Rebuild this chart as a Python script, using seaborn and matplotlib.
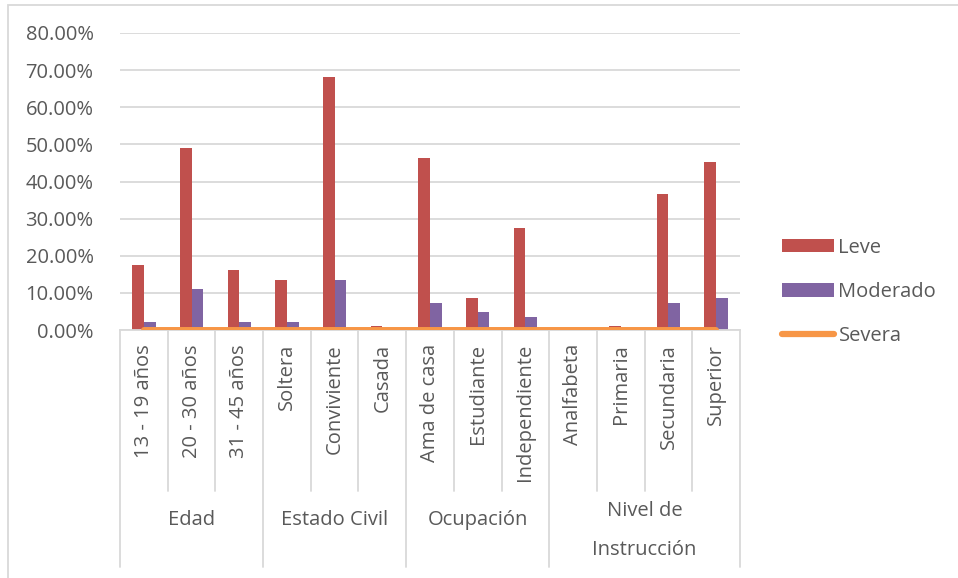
import numpy as np
import pandas as pd
import matplotlib
matplotlib.use("Agg")
import matplotlib.pyplot as plt
import seaborn as sns
from matplotlib.lines import Line2D
from matplotlib.patches import Patch, Rectangle
import matplotlib.transforms as mtransforms

categories = ["13 - 19 años", "20 - 30 años", "31 - 45 años",
              "Soltera", "Conviviente", "Casada",
              "Ama de casa", "Estudiante", "Independiente",
              "Analfabeta", "Primaria", "Secundaria", "Superior"]
groups = ["Edad", "Estado Civil", "Ocupación", "Nivel de\nInstrucción"]
group_sizes = [3, 3, 3, 4]
leve = [0.175, 0.490, 0.162, 0.136, 0.681, 0.011, 0.463, 0.086, 0.276, 0.0, 0.011, 0.365, 0.453]
moderado = [0.022, 0.110, 0.022, 0.022, 0.136, 0.0, 0.074, 0.048, 0.035, 0.0, 0.0, 0.074, 0.086]
severa = [0.0] * 13
yticks = [0.0, 0.1, 0.2, 0.3, 0.4, 0.5, 0.6, 0.7, 0.8]

C_LEVE = "#C0504D"
C_MOD = "#8064A2"
C_SEV = "#F79646"
TXT = "#595959"
GRID = "#D9D9D9"

sns.set_theme(style="white")
plt.rcParams["font.family"] = ["Open Sans", "DejaVu Sans"]

df = pd.DataFrame({
    "cat": categories * 2,
    "val": leve + moderado,
    "serie": ["Leve"] * 13 + ["Moderado"] * 13,
})

W, H = 958, 578
fig = plt.figure(figsize=(W / 100, H / 100), dpi=100)
ax = fig.add_axes([120 / W, (H - 330) / H, 620 / W, 297 / H])

sns.barplot(data=df, x="cat", y="val", hue="serie", order=categories,
            palette=[C_LEVE, C_MOD], width=0.49, ax=ax, legend=False,
            saturation=1, linewidth=0, errorbar=None)
xs = np.arange(len(categories))
sns.lineplot(x=xs, y=severa, ax=ax, color=C_SEV, linewidth=4.3,
             solid_capstyle="round", legend=False, zorder=5)

ax.set_xlim(-0.5, len(categories) - 0.5)
ax.set_ylim(0, 0.8)
ax.set_yticks(yticks)
ax.set_yticklabels([f"{v*100:.2f}%" for v in yticks], color=TXT, fontsize=14.5)
ax.tick_params(axis="y", length=0, pad=19)
ax.grid(axis="y", color=GRID, linewidth=1.3)
ax.set_axisbelow(True)
for s in ["top", "right", "left"]:
    ax.spines[s].set_visible(False)
ax.spines["bottom"].set_color(GRID)
ax.spines["bottom"].set_linewidth(1.3)
ax.set_xticks([])
ax.set_xlabel("")
ax.set_ylabel("")

# category table below the axis
trans = mtransforms.blended_transform_factory(ax.transData, fig.transFigure)
y_top = (H - 330) / H
y_inner = (H - 491) / H
y_outer = (H - 567) / H
for i, c in enumerate(categories):
    ax.text(i, (H - 344) / H, c, transform=trans, rotation=90, ha="center",
            va="top", color=TXT, fontsize=14.5, rotation_mode="default")
bounds = np.cumsum([0] + group_sizes)
for b in range(len(categories) + 1):
    outer = b in bounds
    ax.add_line(Line2D([b - 0.5, b - 0.5], [y_top, y_outer if outer else y_inner],
                       transform=trans, color=GRID, linewidth=1.3, clip_on=False))
for g, (a, b) in zip(groups, zip(bounds[:-1], bounds[1:])):
    xc = (a + b - 1) / 2
    if "\n" in g:
        l1, l2 = g.split("\n")
        ax.text(xc, (H - 511) / H, l1, transform=trans, ha="center", va="center",
                color=TXT, fontsize=14.5)
        ax.text(xc, (H - 550) / H, l2, transform=trans, ha="center", va="center",
                color=TXT, fontsize=14.5)
    else:
        ax.text(xc, (H - 520) / H, g, transform=trans, ha="center", va="center",
                color=TXT, fontsize=14.5)

# legend
handles = [Patch(facecolor=C_LEVE, edgecolor="none"),
           Patch(facecolor=C_MOD, edgecolor="none"),
           Line2D([0], [0], color=C_SEV, linewidth=4.5, solid_capstyle="round")]
leg = fig.legend(handles, ["Leve", "Moderado", "Severa"], loc="center left",
                 bbox_to_anchor=(772 / W, (H - 292) / H), frameon=False,
                 fontsize=14.5, handlelength=2.6, handleheight=0.65,
                 handletextpad=0.2, labelspacing=1.2, borderpad=0)
for t in leg.get_texts():
    t.set_color(TXT)

# chart frame
fig.add_artist(Rectangle((8 / W, -0.01), 1.0, (H - 4.5) / H + 0.01,
                         transform=fig.transFigure, fill=False,
                         edgecolor=GRID, linewidth=1.3))

fig.savefig("out.png", dpi=100, facecolor="white")
